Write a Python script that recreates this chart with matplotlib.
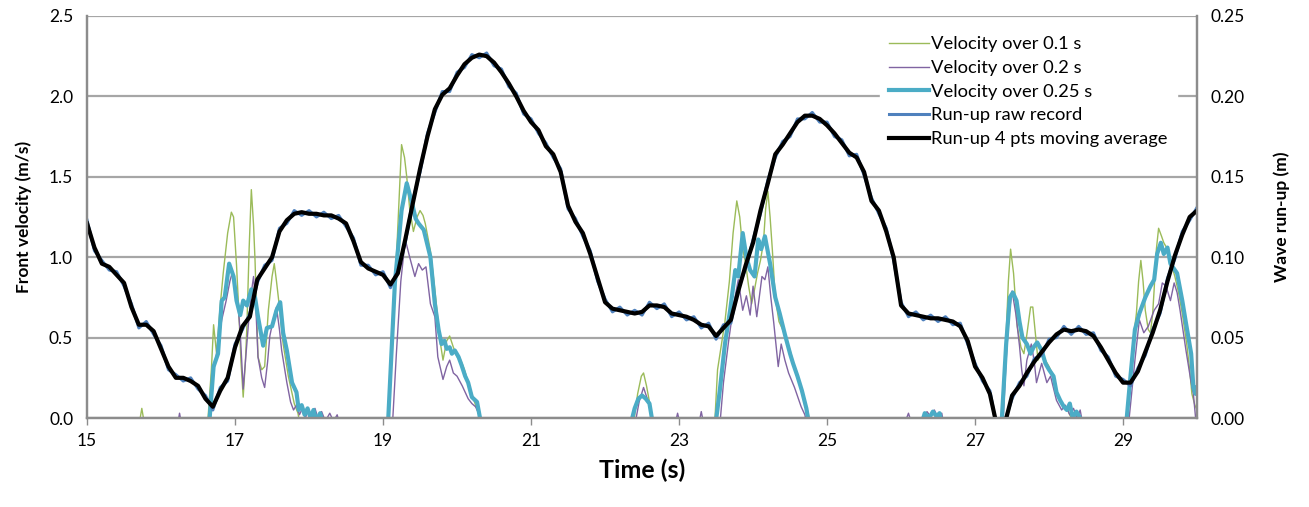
import matplotlib
matplotlib.use("Agg")
import matplotlib.pyplot as plt
import numpy as np

plt.rcParams["font.family"] = ["Lato", "DejaVu Sans"]

nan = np.nan

# run-up record, sampled every 0.1 s from 15 to 30 s (m)
t_runup = np.round(np.arange(15.0, 30.01, 0.1), 2)
runup_avg = [
    0.121, 0.106, 0.096, 0.094, 0.089, 0.084, 0.069, 0.058, 0.058, 0.054,
    0.043, 0.032, 0.025, 0.025, 0.023, 0.020, 0.012, 0.007, 0.017, 0.025,
    0.044, 0.057, 0.063, 0.086, 0.093, 0.100, 0.116, 0.123, 0.127, 0.128,
    0.127, 0.127, 0.126, 0.126, 0.124, 0.121, 0.110, 0.097, 0.093, 0.091,
    0.089, 0.083, 0.090, 0.111, 0.133, 0.155, 0.175, 0.192, 0.201, 0.205,
    0.213, 0.220, 0.224, 0.226, 0.225, 0.221, 0.215, 0.208, 0.200, 0.191,
    0.184, 0.179, 0.169, 0.164, 0.153, 0.132, 0.122, 0.115, 0.102, 0.087,
    0.072, 0.068, 0.067, 0.066, 0.065, 0.066, 0.070, 0.070, 0.069, 0.065,
    0.064, 0.063, 0.061, 0.058, 0.057, 0.051, 0.056, 0.061, 0.079, 0.095,
    0.109, 0.129, 0.146, 0.164, 0.170, 0.177, 0.184, 0.188, 0.188, 0.186,
    0.182, 0.177, 0.171, 0.165, 0.162, 0.153, 0.135, 0.129, 0.116, 0.100,
    0.070, 0.065, 0.064, 0.063, 0.062, 0.062, 0.061, 0.060, 0.057, 0.048,
    0.032, 0.025, 0.015, -0.006, -0.004, 0.014, 0.020, 0.028, 0.035, 0.041,
    0.047, 0.052, 0.055, 0.054, 0.055, 0.054, 0.051, 0.044, 0.036, 0.028,
    0.022, 0.022, 0.029, 0.041, 0.053, 0.067, 0.085, 0.101, 0.114, 0.125,
    0.129,
]
runup_raw = [
    0.123, 0.104, 0.098, 0.092, 0.091, 0.082, 0.071, 0.056, 0.060, 0.052,
    0.045, 0.030, 0.027, 0.023, 0.025, 0.018, 0.014, 0.005, 0.019, 0.023,
    0.046, 0.055, 0.065, 0.084, 0.095, 0.098, 0.118, 0.121, 0.129, 0.126,
    0.129, 0.125, 0.128, 0.124, 0.126, 0.119, 0.112, 0.095, 0.095, 0.089,
    0.091, 0.081, 0.092, 0.109, 0.135, 0.153, 0.177, 0.190, 0.203, 0.203,
    0.215, 0.218, 0.226, 0.224, 0.227, 0.219, 0.217, 0.206, 0.202, 0.189,
    0.186, 0.177, 0.171, 0.162, 0.155, 0.130, 0.124, 0.113, 0.104, 0.085,
    0.074, 0.066, 0.069, 0.064, 0.067, 0.064, 0.072, 0.068, 0.071, 0.063,
    0.066, 0.061, 0.063, 0.056, 0.059, 0.049, 0.058, 0.059, 0.081, 0.093,
    0.111, 0.127, 0.148, 0.162, 0.172, 0.175, 0.186, 0.186, 0.190, 0.184,
    0.184, 0.175, 0.173, 0.163, 0.164, 0.151, 0.137, 0.127, 0.118, 0.098,
    0.072, 0.063, 0.066, 0.061, 0.064, 0.060, 0.063, 0.058, 0.059, 0.046,
    0.034, 0.023, 0.017, -0.008, -0.002, 0.012, 0.022, 0.026, 0.037, 0.039,
    0.049, 0.050, 0.057, 0.052, 0.057, 0.052, 0.053, 0.042, 0.038, 0.026,
    0.024, 0.020, 0.031, 0.039, 0.055, 0.065, 0.087, 0.099, 0.116, 0.123,
    0.131,
]

# front velocity over 0.1 s (m/s); nan splits bursts, negatives fall below the axis
t_v01 = [
    15.70, 15.74, 15.78, 15.78,
    16.62, 16.68, 16.71, 16.75, 16.80, 16.84, 16.90, 16.95, 16.98, 17.02, 17.05,
    17.08, 17.11, 17.14, 17.16, 17.19, 17.22, 17.25, 17.27, 17.31, 17.36, 17.40,
    17.45, 17.50, 17.53, 17.56, 17.59, 17.65, 17.72, 17.80, 17.85, 17.88, 17.88,
    19.07, 19.12, 19.19, 19.25, 19.29, 19.32, 19.36, 19.41, 19.46, 19.50, 19.54,
    19.57, 19.64, 19.68, 19.72, 19.77, 19.81, 19.86, 19.90, 19.95, 20.00, 20.05,
    20.10, 20.15, 20.20, 20.25, 20.30, 20.33, 20.33,
    22.38, 22.44, 22.49, 22.52, 22.56, 22.60, 22.66, 22.66,
    23.48, 23.52, 23.56, 23.62, 23.68, 23.73, 23.78, 23.82, 23.86, 23.90, 23.94,
    23.98, 24.02, 24.06, 24.10, 24.14, 24.17, 24.20, 24.23, 24.26, 24.30, 24.35,
    24.40, 24.44, 24.50, 24.56, 24.62, 24.68, 24.74, 24.78, 24.78,
    27.35, 27.40, 27.45, 27.48, 27.52, 27.57, 27.62, 27.66, 27.70, 27.75, 27.78,
    27.82, 27.85, 27.90, 27.95, 28.00, 28.05, 28.10, 28.15, 28.20, 28.25, 28.30,
    28.35, 28.40, 28.44, 28.44,
    29.03, 29.07, 29.10, 29.14, 29.18, 29.21, 29.24, 29.27, 29.30, 29.34, 29.37,
    29.40, 29.42, 29.45, 29.48, 29.52, 29.55, 29.60, 29.65, 29.70, 29.75, 29.80,
    29.86, 29.90, 29.93, 29.97, 30.00,
]
v01 = [
    -0.05, 0.06, -0.05, nan,
    -0.10, 0.30, 0.58, 0.40, 0.70, 0.90, 1.15, 1.28, 1.25, 0.95, 0.67,
    0.35, 0.13, 0.35, 0.57, 1.05, 1.42, 1.20, 0.98, 0.38, 0.30, 0.32,
    0.67, 0.88, 0.96, 0.85, 0.73, 0.46, 0.26, 0.09, 0.03, -0.05, nan,
    -0.10, 0.50, 1.09, 1.70, 1.62, 1.50, 1.30, 1.16, 1.25, 1.29, 1.26,
    1.21, 1.04, 0.88, 0.71, 0.48, 0.36, 0.48, 0.51, 0.44, 0.38, 0.36,
    0.30, 0.22, 0.15, 0.08, 0.02, -0.05, nan,
    -0.05, 0.15, 0.26, 0.28, 0.20, 0.10, -0.05, nan,
    -0.05, 0.30, 0.42, 0.60, 0.85, 1.15, 1.35, 1.25, 1.05, 0.96, 0.82,
    0.71, 0.80, 0.90, 0.98, 1.09, 1.30, 1.41, 1.25, 1.05, 0.75, 0.60,
    0.55, 0.50, 0.42, 0.32, 0.22, 0.12, 0.04, -0.05, nan,
    -0.10, 0.30, 0.85, 1.05, 0.90, 0.57, 0.44, 0.40, 0.52, 0.69, 0.69,
    0.50, 0.36, 0.40, 0.36, 0.32, 0.27, 0.16, 0.11, 0.06, 0.05, 0.00,
    0.04, 0.03, -0.05, nan,
    -0.10, 0.15, 0.30, 0.50, 0.65, 0.85, 0.98, 0.85, 0.67, 0.55, 0.53,
    0.65, 0.80, 1.05, 1.18, 1.13, 1.09, 1.05, 0.96, 0.88, 0.78, 0.65,
    0.46, 0.30, 0.15, 0.08, 0.05,
]

# front velocity over 0.2 s (m/s)
t_v02 = [
    16.22, 16.25, 16.28, 16.28,
    16.63, 16.68, 16.75, 16.82, 16.88, 16.93, 16.96, 17.00, 17.04, 17.07, 17.11,
    17.14, 17.18, 17.22, 17.25, 17.28, 17.31, 17.36, 17.40, 17.44, 17.47, 17.52,
    17.56, 17.60, 17.63, 17.70, 17.75, 17.79, 17.83, 17.87, 17.91, 17.95, 17.99,
    18.03, 18.08, 18.12, 18.17, 18.22, 18.28, 18.33, 18.38, 18.42, 18.42,
    19.12, 19.18, 19.24, 19.30, 19.36, 19.43, 19.48, 19.53, 19.58, 19.64, 19.70,
    19.74, 19.81, 19.86, 19.90, 19.95, 20.00, 20.07, 20.15, 20.20, 20.25, 20.29,
    20.32, 20.32,
    22.40, 22.46, 22.52, 22.57, 22.62, 22.66, 22.66,
    22.95, 22.98, 23.01, 23.01, 23.27, 23.30, 23.33, 23.33,
    23.55, 23.60, 23.67, 23.74, 23.80, 23.86, 23.91, 23.96, 24.00, 24.05, 24.12,
    24.16, 24.20, 24.24, 24.28, 24.34, 24.38, 24.43, 24.48, 24.56, 24.65, 24.70,
    24.73, 24.73,
    26.05, 26.10, 26.14, 26.14, 26.30, 26.35, 26.40, 26.45, 26.50, 26.55, 26.58,
    26.58,
    27.37, 27.42, 27.46, 27.50, 27.55, 27.60, 27.63, 27.66, 27.70, 27.76, 27.80,
    27.83, 27.90, 27.97, 28.02, 28.10, 28.17, 28.22, 28.28, 28.33, 28.38, 28.42,
    28.46, 28.46,
    29.06, 29.10, 29.16, 29.22, 29.28, 29.34, 29.42, 29.48, 29.53, 29.58, 29.64,
    29.69, 29.73, 29.77, 29.85, 29.92, 29.95, 29.98, 30.00,
]
v02 = [
    -0.05, 0.03, -0.05, nan,
    -0.10, 0.20, 0.40, 0.61, 0.73, 0.85, 0.90, 0.84, 0.70, 0.53, 0.18,
    0.35, 0.58, 0.78, 0.88, 0.70, 0.38, 0.25, 0.19, 0.35, 0.51, 0.62,
    0.69, 0.55, 0.42, 0.22, 0.10, 0.05, 0.08, 0.02, 0.06, 0.00, 0.05,
    0.01, 0.06, 0.00, 0.04, -0.02, 0.03, -0.02, 0.02, -0.05, nan,
    -0.10, 0.40, 0.85, 1.11, 1.00, 0.88, 0.96, 0.92, 0.94, 0.71, 0.63,
    0.38, 0.24, 0.32, 0.36, 0.28, 0.26, 0.20, 0.12, 0.09, 0.07, 0.03,
    -0.05, nan,
    -0.05, 0.10, 0.19, 0.12, 0.04, -0.05, nan,
    -0.03, 0.03, -0.03, nan, -0.03, 0.04, -0.03, nan,
    -0.05, 0.22, 0.48, 0.71, 0.86, 0.67, 0.76, 0.64, 0.82, 0.63, 0.88,
    0.86, 0.94, 0.75, 0.59, 0.32, 0.46, 0.36, 0.28, 0.19, 0.07, 0.02,
    -0.05, nan,
    -0.03, 0.03, -0.03, nan, -0.03, 0.04, 0.01, 0.05, 0.00, 0.03, -0.05,
    nan,
    -0.10, 0.36, 0.65, 0.79, 0.65, 0.45, 0.30, 0.20, 0.36, 0.46, 0.35,
    0.22, 0.34, 0.22, 0.26, 0.11, 0.05, 0.08, 0.02, 0.06, 0.00, 0.05,
    -0.05, nan,
    -0.10, 0.08, 0.36, 0.61, 0.53, 0.57, 0.67, 0.71, 0.84, 0.82, 0.73,
    0.84, 0.78, 0.67, 0.42, 0.22, 0.15, 0.00, -0.05,
]

# front velocity over 0.25 s (m/s)
t_v025 = [
    16.64, 16.71, 16.77, 16.82, 16.86, 16.92, 16.98, 17.02, 17.07, 17.11, 17.16,
    17.22, 17.27, 17.31, 17.38, 17.43, 17.50, 17.56, 17.61, 17.65, 17.70, 17.77,
    17.83, 17.86, 17.90, 17.94, 17.98, 18.02, 18.06, 18.10, 18.15, 18.20, 18.20,
    19.06, 19.16, 19.25, 19.32, 19.39, 19.44, 19.48, 19.55, 19.64, 19.70, 19.75,
    19.79, 19.83, 19.86, 19.90, 19.93, 19.97, 20.02, 20.06, 20.11, 20.15, 20.20,
    20.27, 20.31, 20.33, 20.33,
    22.34, 22.40, 22.45, 22.50, 22.55, 22.60, 22.65, 22.65,
    23.49, 23.55, 23.62, 23.69, 23.76, 23.80, 23.86, 23.91, 23.96, 24.02, 24.07,
    24.11, 24.16, 24.23, 24.30, 24.36, 24.43, 24.50, 24.54, 24.60, 24.66, 24.72,
    24.76, 24.76,
    26.28, 26.32, 26.38, 26.43, 26.48, 26.52, 26.56, 26.56,
    27.35, 27.42, 27.47, 27.51, 27.56, 27.60, 27.64, 27.70, 27.75, 27.79, 27.84,
    27.90, 27.95, 28.00, 28.06, 28.10, 28.15, 28.20, 28.24, 28.28, 28.32, 28.37,
    28.42, 28.45, 28.45,
    29.03, 29.10, 29.16, 29.22, 29.30, 29.37, 29.42, 29.46, 29.51, 29.55, 29.60,
    29.64, 29.73, 29.80, 29.85, 29.92, 29.95, 29.98, 30.00,
]
v025 = [
    -0.10, 0.32, 0.40, 0.73, 0.75, 0.96, 0.88, 0.73, 0.64, 0.73, 0.70,
    0.80, 0.75, 0.63, 0.45, 0.56, 0.57, 0.67, 0.72, 0.53, 0.42, 0.22,
    0.16, 0.05, 0.08, 0.02, 0.06, 0.00, 0.05, -0.02, 0.03, -0.05, nan,
    -0.10, 0.84, 1.29, 1.46, 1.34, 1.24, 1.21, 1.17, 1.00, 0.71, 0.55,
    0.46, 0.48, 0.43, 0.44, 0.40, 0.42, 0.38, 0.33, 0.26, 0.22, 0.13,
    0.10, 0.00, -0.05, nan,
    -0.05, 0.06, 0.12, 0.14, 0.12, 0.09, -0.05, nan,
    -0.05, 0.17, 0.46, 0.67, 0.92, 0.88, 1.15, 1.00, 0.92, 0.88, 1.11,
    1.05, 1.13, 0.96, 0.75, 0.65, 0.52, 0.40, 0.34, 0.26, 0.17, 0.06,
    -0.05, nan,
    -0.03, 0.03, 0.00, 0.04, 0.01, 0.03, -0.05, nan,
    -0.10, 0.46, 0.75, 0.78, 0.73, 0.60, 0.50, 0.46, 0.40, 0.44, 0.47,
    0.42, 0.34, 0.30, 0.26, 0.16, 0.11, 0.07, 0.05, 0.09, 0.00, 0.04,
    0.00, -0.05, nan,
    -0.10, 0.26, 0.55, 0.65, 0.75, 0.82, 0.86, 1.02, 1.09, 1.02, 1.06,
    0.96, 0.90, 0.73, 0.59, 0.40, 0.19, 0.15, 0.19,
]

fig = plt.figure(figsize=(13.09, 5.07), dpi=100)
ax = fig.add_axes([0.0665, 0.1755, 0.848, 0.793])
ax2 = ax.twinx()

grid_c = "#a6a6a6"
ax.plot(t_v01, v01, color="#9bbb59", lw=1.0, label="Velocity over 0.1 s")
ax.plot(t_v02, v02, color="#8064a2", lw=1.0, label="Velocity over 0.2 s")
ax.plot(t_v025, v025, color="#4bacc6", lw=3.0, label="Velocity over 0.25 s")
ax2.plot(t_runup, runup_raw, color="#4f81bd", lw=2.2, label="Run-up raw record")
ax2.plot(t_runup, runup_avg, color="black", lw=3.0, label="Run-up 4 pts moving average")

ax.set_xlim(15, 30)
ax.set_ylim(0, 2.5)
ax2.set_ylim(0, 0.25)
ax.set_xticks(np.arange(15, 30, 2))
ax.set_yticks(np.arange(0, 2.51, 0.5))
ax2.set_yticks(np.arange(0, 0.251, 0.05))
ax.set_yticklabels([f"{v:.1f}" for v in np.arange(0, 2.51, 0.5)])
ax2.set_yticklabels([f"{v:.2f}" for v in np.arange(0, 0.251, 0.05)])

ax.yaxis.grid(True, color=grid_c, lw=1.6)
ax.set_axisbelow(True)
for a in (ax, ax2):
    a.spines["top"].set_visible(False)
    for s in ("left", "right", "bottom"):
        a.spines[s].set_color("#8c8c8c")
        a.spines[s].set_linewidth(1.6)
ax.tick_params(axis="x", direction="out", length=5, width=1, color="#8c8c8c",
               labelsize=12.5, pad=6)
ax.tick_params(axis="y", length=0, labelsize=12.5, pad=10)
ax2.tick_params(axis="y", length=0, labelsize=12.5, pad=10)

ax.set_xlabel("Time (s)", fontsize=18, fontweight="bold", labelpad=7)
ax.set_ylabel("Front velocity (m/s)", fontsize=12.5, fontweight="bold", labelpad=12)
ax2.set_ylabel("Wave run-up (m)", fontsize=12.5, fontweight="bold", labelpad=20)

h1, l1 = ax.get_legend_handles_labels()
h2, l2 = ax2.get_legend_handles_labels()
leg = ax2.legend(h1 + h2, l1 + l2, loc="upper right", bbox_to_anchor=(0.99, 0.995),
                 fontsize=13.2, frameon=True, fancybox=False, framealpha=1,
                 edgecolor="white", handlelength=2.2, handletextpad=0.1,
                 labelspacing=0.42, borderpad=0.5)

fig.savefig("out.png", dpi=100)
